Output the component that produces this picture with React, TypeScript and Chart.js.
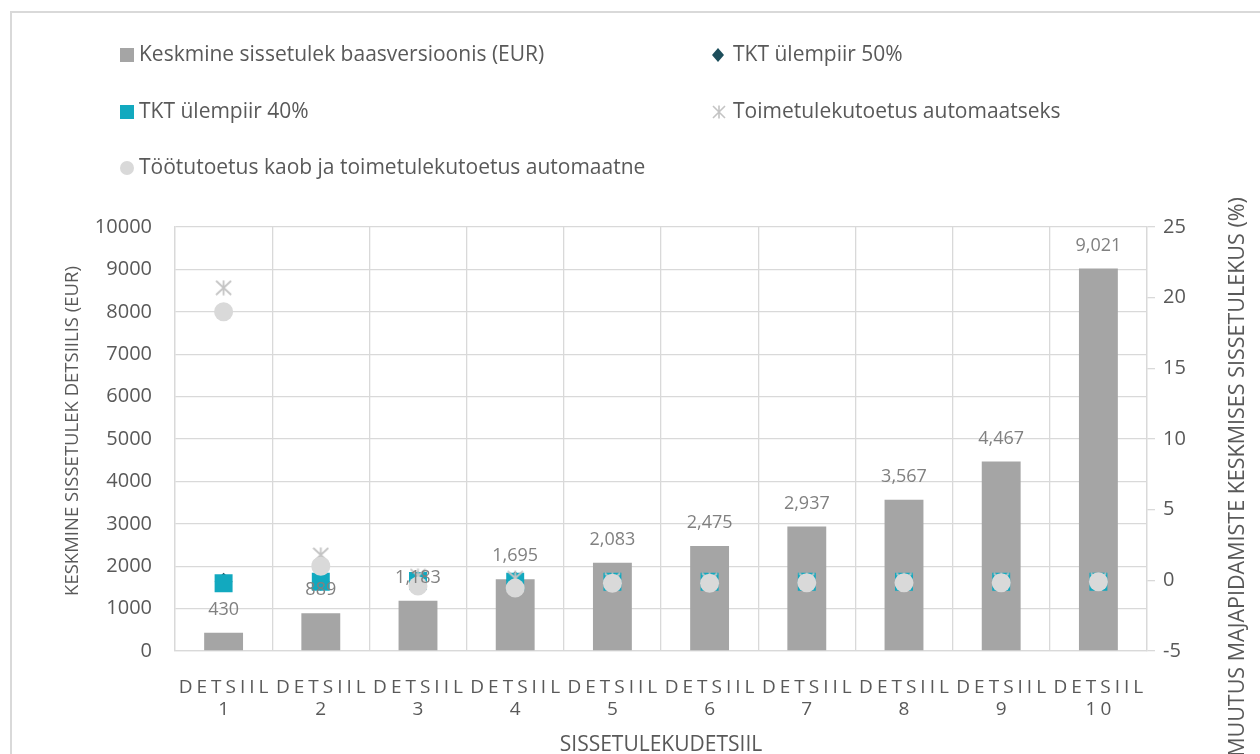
import React, { useEffect, useRef } from 'react';
import { Chart, registerables } from 'chart.js';

Chart.register(...registerables);

// ---------- data ----------
const decileWord = 'DETSIIL';
const decileNumbers = ['1', '2', '3', '4', '5', '6', '7', '8', '9', '10'];
const baseIncome = [430, 889, 1183, 1695, 2083, 2475, 2937, 3567, 4467, 9021];
const tkt50 = [-0.1, -0.1, 0.0, 0.0, -0.1, -0.1, -0.1, -0.1, -0.1, -0.05];
const tkt40 = [-0.2, -0.1, -0.05, -0.1, -0.1, -0.1, -0.1, -0.1, -0.1, -0.1];
const toimetulekAuto = [20.7, 1.8, 0.3, 0.15, 0.0, 0.0, 0.0, 0.0, 0.0, 0.0];
const tootutoetusKaob = [19.0, 1.0, -0.4, -0.55, -0.2, -0.2, -0.17, -0.17, -0.17, -0.1];

const leftAxis = { min: 0, max: 10000, step: 1000 };
const rightAxis = { min: -5, max: 25, step: 5 };

const seriesNames = [
  'Keskmine sissetulek baasversioonis (EUR)',
  'TKT ülempiir 50%',
  'TKT ülempiir 40%',
  'Toimetulekutoetus automaatseks',
  'Töötutoetus kaob ja toimetulekutoetus automaatne',
];
const leftTitle = 'KESKMINE SISSETULEK DETSIILIS (EUR)';
const rightTitle = 'MUUTUS MAJAPIDAMISTE KESKMISES SISSETULEKUS (%)';
const xTitle = 'SISSETULEKUDETSIIL';

// ---------- styles ----------
const FONT = '"Open Sans", sans-serif';
const C_BAR = '#a5a5a5';
const C_DIAMOND = '#1d4e5b';
const C_SQUARE = '#12a9bf';
const C_STAR = '#c4c4c4';
const C_CIRCLE = '#d9d9d9';
const C_GRID = '#d9d9d9';
const C_TEXT = '#595959';
const C_LABEL = '#808080';

function makeAsterisk(w: number, h: number, color: string, lw: number) {
  const c = document.createElement('canvas');
  c.width = w;
  c.height = h;
  const ctx = c.getContext('2d')!;
  ctx.strokeStyle = color;
  ctx.lineWidth = lw;
  ctx.lineCap = 'butt';
  ctx.beginPath();
  ctx.moveTo(w / 2, 0.5);
  ctx.lineTo(w / 2, h - 0.5);
  ctx.moveTo(1, 1);
  ctx.lineTo(w - 1, h - 1);
  ctx.moveTo(w - 1, 1);
  ctx.lineTo(1, h - 1);
  ctx.stroke();
  return c;
}

export default function App() {
  const ref = useRef<HTMLCanvasElement | null>(null);

  useEffect(() => {
    document.documentElement.style.overflow = 'hidden';
    const canvas = ref.current!;
    const star = makeAsterisk(17, 16, C_STAR, 1.8);

    const letterSpacingPx = 4;

    const overlay = {
      id: 'overlay',
      beforeDraw(chart: any) {
        const s: any = chart.scales.x;
        if (s && !s.__ls) {
          const orig = s.drawLabels.bind(s);
          s.drawLabels = (area: any) => {
            const ctx = s.ctx;
            ctx.save();
            (ctx as any).letterSpacing = letterSpacingPx + 'px';
            ctx.translate(letterSpacingPx / 2, 0);
            orig(area);
            ctx.restore();
          };
          s.__ls = true;
        }
        const ctx = chart.ctx;
        ctx.save();
        ctx.fillStyle = '#ffffff';
        ctx.fillRect(0, 0, chart.width, chart.height);
        ctx.strokeStyle = C_GRID;
        ctx.lineWidth = 2;
        ctx.strokeRect(11, 12, 1400, 900);
        ctx.restore();
      },
      afterDatasetsDraw(chart: any) {
        const ctx = chart.ctx;
        const meta = chart.getDatasetMeta(0);
        ctx.save();
        ctx.font = `18px ${FONT}`;
        ctx.fillStyle = C_LABEL;
        ctx.textAlign = 'center';
        ctx.textBaseline = 'middle';
        meta.data.forEach((bar: any, i: number) => {
          ctx.fillText(baseIncome[i].toLocaleString('en-US'), bar.x, bar.y - 23);
        });
        ctx.restore();
      },
      afterDraw(chart: any) {
        const ctx = chart.ctx;
        const area = chart.chartArea;
        ctx.save();
        ctx.fillStyle = C_TEXT;
        ctx.textBaseline = 'middle';
        // axis titles
        ctx.textAlign = 'center';
        ctx.font = `18.5px ${FONT}`;
        ctx.save();
        ctx.translate(73, 431);
        ctx.rotate(-Math.PI / 2);
        ctx.fillText(leftTitle, 0, 0);
        ctx.restore();
        ctx.font = `21.5px ${FONT}`;
        ctx.save();
        ctx.translate(1238, 477);
        ctx.rotate(-Math.PI / 2);
        ctx.fillText(rightTitle, 0, 0);
        ctx.restore();
        ctx.font = `21px ${FONT}`;
        ctx.fillText(xTitle, (area.left + area.right) / 2, 745);

        // legend
        ctx.font = `21px ${FONT}`;
        ctx.textAlign = 'left';
        const rows = [55, 112, 168];
        const col1Text = 139;
        const col2Text = 733;
        // 1: gray square
        ctx.fillStyle = C_BAR;
        ctx.fillRect(120, rows[0] - 7, 14, 14);
        // 2: diamond
        ctx.fillStyle = C_DIAMOND;
        ctx.beginPath();
        ctx.moveTo(718, rows[0] - 7);
        ctx.lineTo(712, rows[0]);
        ctx.lineTo(718, rows[0] + 7);
        ctx.lineTo(724, rows[0]);
        ctx.closePath();
        ctx.fill();
        // 3: cyan square
        ctx.fillStyle = C_SQUARE;
        ctx.fillRect(120, rows[1] - 7, 14, 14);
        // 4: star
        ctx.drawImage(makeAsterisk(14, 14, C_STAR, 1.6), 712, rows[1] - 7);
        // 5: circle
        ctx.fillStyle = C_CIRCLE;
        ctx.beginPath();
        ctx.arc(127, rows[2], 7, 0, Math.PI * 2);
        ctx.fill();

        ctx.fillStyle = C_TEXT;
        ctx.fillText(seriesNames[0], col1Text, rows[0]);
        ctx.fillText(seriesNames[1], col2Text, rows[0]);
        ctx.fillText(seriesNames[2], col1Text, rows[1]);
        ctx.fillText(seriesNames[3], col2Text, rows[1]);
        ctx.fillText(seriesNames[4], col1Text, rows[2]);
        ctx.restore();
      },
    };

    const chart = new Chart(canvas, {
      type: 'bar',
      data: {
        labels: decileNumbers.map((n) => [decileWord, n]),
        datasets: [
          {
            type: 'bar',
            label: seriesNames[0],
            data: baseIncome,
            backgroundColor: C_BAR,
            yAxisID: 'y',
            barPercentage: 0.4,
            categoryPercentage: 1,
            order: 5,
          } as any,
          {
            type: 'line',
            label: seriesNames[1],
            data: tkt50,
            yAxisID: 'y1',
            showLine: false,
            pointStyle: 'rectRot',
            pointRadius: 9,
            pointBackgroundColor: C_DIAMOND,
            pointBorderWidth: 0,
            order: 4,
          },
          {
            type: 'line',
            label: seriesNames[2],
            data: tkt40,
            yAxisID: 'y1',
            showLine: false,
            pointStyle: 'rect',
            pointRadius: 12.7,
            pointBackgroundColor: C_SQUARE,
            pointBorderWidth: 0,
            order: 3,
          },
          {
            type: 'line',
            label: seriesNames[3],
            data: toimetulekAuto,
            yAxisID: 'y1',
            showLine: false,
            pointStyle: star as any,
            pointRadius: 8,
            order: 2,
          },
          {
            type: 'line',
            label: seriesNames[4],
            data: tootutoetusKaob,
            yAxisID: 'y1',
            showLine: false,
            pointStyle: 'circle',
            pointRadius: 9.5,
            pointBackgroundColor: C_CIRCLE,
            pointBorderWidth: 0,
            order: 1,
          },
        ],
      },
      options: {
        animation: false,
        responsive: true,
        maintainAspectRatio: false,
        layout: { padding: { top: 227, left: 0, right: 0, bottom: 0 } },
        plugins: {
          legend: { display: false },
          tooltip: { enabled: false },
        },
        scales: {
          x: {
            offset: true,
            grid: { offset: true, color: C_GRID, lineWidth: 1.3, drawTicks: false },
            border: { color: C_GRID, width: 1.3 },
            ticks: {
              color: C_TEXT,
              font: { family: FONT, size: 19, lineHeight: 1.17 },
              padding: 25,
              maxRotation: 0,
              minRotation: 0,
              autoSkip: false,
            },
            afterFit: (s: any) => {
              s.height = 103;
            },
          },
          y: {
            position: 'left',
            min: leftAxis.min,
            max: leftAxis.max,
            ticks: {
              stepSize: leftAxis.step,
              color: C_TEXT,
              font: { family: FONT, size: 20 },
              padding: 23,
              callback: (v: any) => String(v),
            },
            grid: { color: C_GRID, lineWidth: 1.3, drawTicks: false },
            border: { color: C_GRID, width: 1.3 },
            afterFit: (s: any) => {
              s.width = 175;
            },
          },
          y1: {
            position: 'right',
            min: rightAxis.min,
            max: rightAxis.max,
            ticks: {
              stepSize: rightAxis.step,
              color: C_TEXT,
              font: { family: FONT, size: 20 },
              padding: 8,
              callback: (v: any) => String(v),
            },
            grid: { drawOnChartArea: false, color: C_GRID, lineWidth: 1.3, tickLength: 8 },
            border: { color: C_GRID, width: 1.3 },
            afterFit: (s: any) => {
              s.width = 113;
            },
          },
        },
      },
      plugins: [overlay],
    });

    return () => chart.destroy();
  }, []);

  return (
    <div style={{ position: 'fixed', left: 0, top: 0, width: 1260, height: 754 }}>
      <canvas ref={ref} />
    </div>
  );
}
